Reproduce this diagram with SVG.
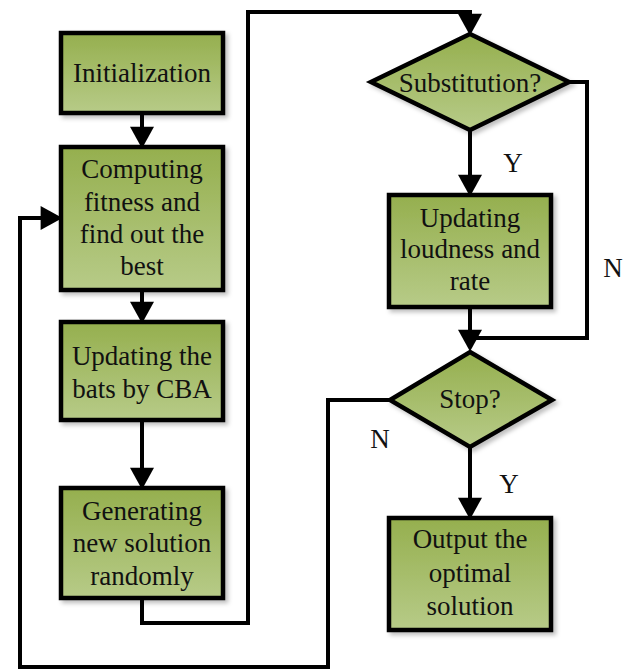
<svg xmlns="http://www.w3.org/2000/svg" width="629" height="672" viewBox="0 0 629 672">
  <style>
    .box { fill: url(#green); stroke: #000; stroke-width: 4.5; filter: url(#shadow); }
    .lbl { font-family: "Liberation Serif", "Times New Roman", serif; font-size: 27px; fill: #111; text-anchor: middle; }
    .wire { fill: none; stroke: #000; stroke-width: 4; stroke-linejoin: miter; }
    .arrow { marker-end: url(#head); }
  </style>
  <defs>
    <linearGradient id="green" x1="0" y1="0" x2="0" y2="1">
      <stop offset="0" stop-color="#95af4e"/>
      <stop offset="1" stop-color="#b7cb88"/>
    </linearGradient>
    <filter id="shadow" x="-10%" y="-10%" width="130%" height="130%">
      <feDropShadow dx="3" dy="3" stdDeviation="2" flood-color="#000" flood-opacity="0.25"/>
    </filter>
    <marker id="head" markerUnits="userSpaceOnUse" markerWidth="24" markerHeight="24" viewBox="0 0 20 22" refX="4" refY="11" orient="auto">
      <path d="M0,0 L20,11 L0,22 Z" fill="#000"/>
    </marker>
  </defs>

  <rect width="629" height="672" fill="#fff"/>

  <g id="connectors">
    <path class="wire arrow" d="M142,113 V131"/>
    <path class="wire arrow" d="M142,290 V306"/>
    <path class="wire arrow" d="M142,420 V472"/>
    <path class="wire arrow" d="M142,598 V623 H248 V12 H470 V18"/>
    <path class="wire arrow" d="M470,130 V179"/>
    <path class="wire arrow" d="M470,307 V334"/>
    <path class="wire" d="M569,82 H587 V338 H470"/>
    <path class="wire arrow" d="M470,447 V502"/>
    <path class="wire arrow" d="M390,400 H328 V667 H20 V218 H45"/>
    <text class="lbl" x="513" y="172">Y</text>
    <text class="lbl" x="613" y="277">N</text>
    <text class="lbl" x="380" y="448">N</text>
    <text class="lbl" x="509" y="493">Y</text>
  </g>

  <g id="init">
    <rect class="box" x="61" y="33" width="162" height="80"/>
    <text class="lbl" x="142" y="82">Initialization</text>
  </g>

  <g id="fitness">
    <rect class="box" x="61" y="147" width="162" height="143"/>
    <text class="lbl" x="142" y="178">Computing</text>
    <text class="lbl" x="142" y="211">fitness and</text>
    <text class="lbl" x="142" y="243">find out the</text>
    <text class="lbl" x="142" y="275">best</text>
  </g>

  <g id="update-bats">
    <rect class="box" x="61" y="322" width="162" height="98"/>
    <text class="lbl" x="142" y="365">Updating the</text>
    <text class="lbl" x="142" y="398">bats by CBA</text>
  </g>

  <g id="generate">
    <rect class="box" x="61" y="488" width="162" height="110"/>
    <text class="lbl" x="142" y="520">Generating</text>
    <text class="lbl" x="142" y="552">new solution</text>
    <text class="lbl" x="142" y="585">randomly</text>
  </g>

  <g id="substitution">
    <polygon class="box" points="470,34 569,82 470,130 371,82"/>
    <text class="lbl" x="470" y="92">Substitution?</text>
  </g>

  <g id="update-loudness">
    <rect class="box" x="389" y="195" width="162" height="112"/>
    <text class="lbl" x="470" y="227">Updating</text>
    <text class="lbl" x="470" y="258">loudness and</text>
    <text class="lbl" x="470" y="290">rate</text>
  </g>

  <g id="stop">
    <polygon class="box" points="470,352 552,400 470,447 390,400"/>
    <text class="lbl" x="470" y="408">Stop?</text>
  </g>

  <g id="output">
    <rect class="box" x="389" y="518" width="162" height="112"/>
    <text class="lbl" x="470" y="548">Output the</text>
    <text class="lbl" x="470" y="582">optimal</text>
    <text class="lbl" x="470" y="615">solution</text>
  </g>
</svg>
